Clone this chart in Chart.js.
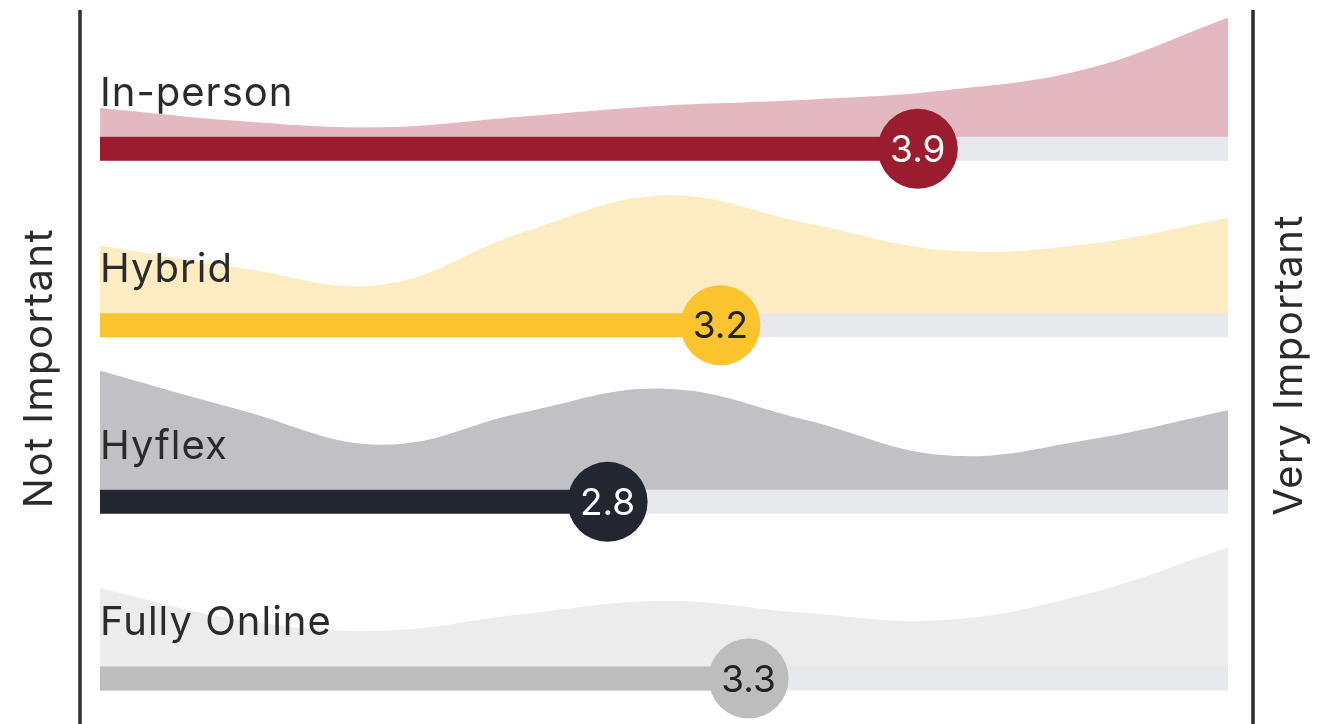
<!DOCTYPE html>
<html>
<head>
<meta charset="utf-8">
<script src="https://cdn.jsdelivr.net/npm/chart.js@4.4.1/dist/chart.umd.min.js"></script>
<style>
  html, body { margin: 0; padding: 0; background: #fff; }
  #wrap { width: 1319px; height: 724px; position: relative; }
</style>
</head>
<body>
<div id="wrap"><canvas id="chart"></canvas></div>
<script>
// Modes and their mean importance score (1 = not important, 5 = very important)
const categories = ['In-person', 'Hybrid', 'Hyflex', 'Fully Online'];
const meanScores = [3.9, 3.2, 2.8, 3.3];

// Response distribution, relative density (% of row peak) along the 1-5 scale
const scalePoints = [1, 1.5, 2, 2.5, 3, 3.5, 4, 4.5, 5];
const densityInPerson = [24, 13, 8, 17, 26, 31, 39, 57, 100];
const densityHybrid = [57, 38, 24, 68, 99, 76, 53, 58, 80];
const densityHyflex = [100, 67, 38, 65, 85, 59, 29, 42, 67];
const densityOnline = [66, 39, 30, 44, 55, 45, 39, 61, 100];

const endLabels = ['Not Important', 'Very Important'];

const densities = [densityInPerson, densityHybrid, densityHyflex, densityOnline];
const barColors = ['#9c1c2f', '#fbc32d', '#222631', '#bdbdbd'];
const areaColors = ['#e3b8c1', '#fdecc2', '#c1c1c5', '#ececec'];
const valueTextColors = ['#ffffff', '#222222', '#ffffff', '#222222'];
const trackColor = '#e7e9ec';

// layout in y units (1 unit = one row)
const Y_MAX = 4.1;
const PX = 724 / Y_MAX;
const TRACK_HALF = 12 / PX;
const AREA_HEIGHT = 119 / PX;
const rowCenter = i => 3.258 - i;

const datasets = [];
categories.forEach((name, i) => {
  const c = rowCenter(i);
  datasets.push({
    label: name + ' distribution',
    data: scalePoints.map((x, j) => ({ x: x, y: c + TRACK_HALF + densities[i][j] / 100 * AREA_HEIGHT })),
    backgroundColor: areaColors[i],
    borderWidth: 0,
    pointRadius: 0,
    tension: 0.4,
    fill: { value: c },
    order: 4
  });
  datasets.push({
    label: name + ' track',
    data: [{ x: 1, y: c }, { x: 5, y: c }],
    borderColor: trackColor,
    borderWidth: 24,
    borderCapStyle: 'butt',
    pointRadius: 0,
    fill: false,
    order: 3
  });
  datasets.push({
    label: name + ' bar',
    data: [{ x: 1, y: c }, { x: meanScores[i], y: c }],
    borderColor: barColors[i],
    borderWidth: 24,
    borderCapStyle: 'butt',
    pointRadius: 0,
    fill: false,
    order: 2
  });
  datasets.push({
    label: name + ' mean',
    data: [{ x: meanScores[i], y: c }],
    showLine: false,
    pointRadius: 40,
    pointBackgroundColor: barColors[i],
    pointBorderWidth: 0,
    order: 1
  });
});

const textPlugin = {
  id: 'rowText',
  afterDatasetsDraw(chart) {
    const ctx = chart.ctx;
    const xs = chart.scales.x;
    const ys = chart.scales.y;
    ctx.save();
    categories.forEach((name, i) => {
      const cy = ys.getPixelForValue(rowCenter(i));
      // row label
      ctx.font = '40px Inter';
      ctx.letterSpacing = '1px';
      ctx.fillStyle = '#2b2b2b';
      ctx.textAlign = 'left';
      ctx.textBaseline = 'alphabetic';
      ctx.fillText(name, xs.getPixelForValue(1), cy - 43);
      // value in circle
      ctx.font = '37px Inter';
      ctx.letterSpacing = '0px';
      ctx.fillStyle = valueTextColors[i];
      ctx.textAlign = 'center';
      ctx.textBaseline = 'middle';
      ctx.fillText(meanScores[i].toFixed(1), xs.getPixelForValue(meanScores[i]), cy + 2);
    });

    // side rules
    ctx.strokeStyle = '#2e2e2e';
    ctx.lineWidth = 3.5;
    const left = chart.chartArea.left - 20;
    const right = chart.chartArea.right + 25;
    ctx.beginPath();
    ctx.moveTo(left, 10); ctx.lineTo(left, chart.height);
    ctx.moveTo(right, 10); ctx.lineTo(right, chart.height);
    ctx.stroke();

    // end labels
    ctx.font = '40px Inter';
    ctx.letterSpacing = '1.5px';
    ctx.fillStyle = '#2b2b2b';
    ctx.textAlign = 'center';
    ctx.textBaseline = 'middle';
    ctx.translate(40, 368);
    ctx.rotate(-Math.PI / 2);
    ctx.fillText(endLabels[0], 0, 0);
    ctx.setTransform(1, 0, 0, 1, 0, 0);
    ctx.translate(1290, 365);
    ctx.rotate(-Math.PI / 2);
    ctx.fillText(endLabels[1], 0, 0);
    ctx.restore();
  }
};

new Chart(document.getElementById('chart'), {
  type: 'line',
  data: { datasets: datasets },
  options: {
    responsive: true,
    maintainAspectRatio: false,
    animation: false,
    events: [],
    layout: { autoPadding: false, padding: { left: 100, right: 91, top: 0, bottom: 0 } },
    plugins: {
      legend: { display: false },
      tooltip: { enabled: false }
    },
    scales: {
      x: { type: 'linear', min: 1, max: 5, display: false },
      y: { type: 'linear', min: 0, max: Y_MAX, display: false }
    }
  },
  plugins: [textPlugin]
});
</script>
</body>
</html>
